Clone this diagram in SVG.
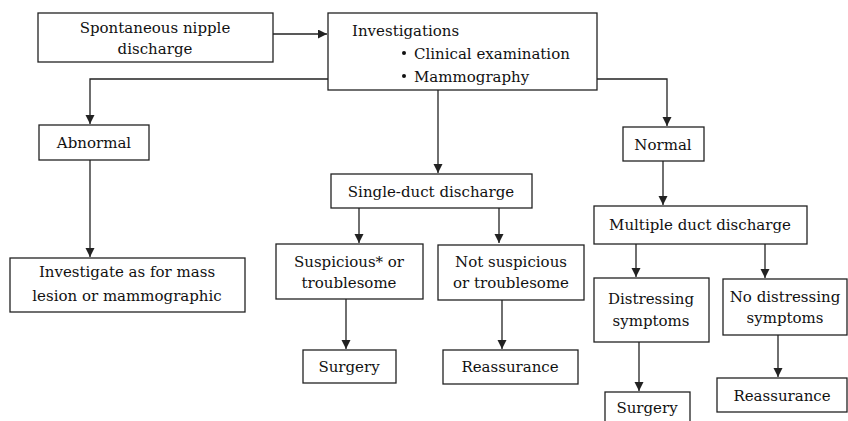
<svg xmlns="http://www.w3.org/2000/svg" width="848" height="421" viewBox="0 0 848 421">
<defs>
<marker id="ah" markerWidth="10" markerHeight="10" refX="9" refY="4.5" orient="auto" markerUnits="userSpaceOnUse">
<path d="M0,0 L9,4.5 L0,9 Z" fill="#222"/>
</marker>
<style>
rect{fill:#fff;stroke:#222;stroke-width:1.3}
.c{text-anchor:middle}
#connectors path{fill:none;stroke:#222;stroke-width:1.3;marker-end:url(#ah)}
</style>
</defs>
<rect x="0" y="0" width="848" height="421" style="fill:#fff;stroke:none"/>
<g id="connectors">
<path d="M273,34 L327,34"/>
<path d="M328,79 L90,79 L90,124"/>
<path d="M438,90 L438,173"/>
<path d="M597,79 L667,79 L667,126"/>
<path d="M90,160 L90,257"/>
<path d="M359,208 L359,243"/>
<path d="M499,208 L499,243"/>
<path d="M346,299 L346,349"/>
<path d="M502,300 L502,349"/>
<path d="M663,161 L663,205"/>
<path d="M636,244 L636,277"/>
<path d="M765,244 L765,278"/>
<path d="M639,342 L639,391"/>
<path d="M778,335 L778,377"/>
</g>
<g font-family="DejaVu Serif, serif" font-size="15" fill="#111">
<g id="spontaneous">
<rect x="38" y="13" width="235" height="49"/>
<text class="c" x="155" y="33">Spontaneous nipple</text>
<text class="c" x="155" y="54">discharge</text>
</g>
<g id="investigations">
<rect x="328" y="13" width="269" height="77"/>
<text x="352" y="36">Investigations</text>
<circle cx="404" cy="53" r="2" fill="#111"/>
<text x="414" y="59">Clinical examination</text>
<circle cx="404" cy="76" r="2" fill="#111"/>
<text x="414" y="82">Mammography</text>
</g>
<g id="abnormal">
<rect x="39" y="125" width="110" height="35"/>
<text class="c" x="94" y="148">Abnormal</text>
</g>
<g id="investigate">
<rect x="10" y="258" width="235" height="54"/>
<text class="c" x="127" y="277">Investigate as for mass</text>
<text class="c" x="127" y="301">lesion or mammographic</text>
</g>
<g id="single">
<rect x="331" y="174" width="201" height="34"/>
<text class="c" x="431" y="197">Single-duct discharge</text>
</g>
<g id="suspicious">
<rect x="276" y="244" width="147" height="55"/>
<text class="c" x="349" y="267">Suspicious* or</text>
<text class="c" x="349" y="288">troublesome</text>
</g>
<g id="notsuspicious">
<rect x="438" y="245" width="146" height="55"/>
<text class="c" x="511" y="267">Not suspicious</text>
<text class="c" x="511" y="288">or troublesome</text>
</g>
<g id="surgery1">
<rect x="303" y="350" width="93" height="33"/>
<text class="c" x="349" y="372">Surgery</text>
</g>
<g id="reassurance1">
<rect x="443" y="350" width="135" height="34"/>
<text class="c" x="510" y="372">Reassurance</text>
</g>
<g id="normal">
<rect x="623" y="127" width="81" height="34"/>
<text class="c" x="663" y="150">Normal</text>
</g>
<g id="multiple">
<rect x="594" y="206" width="213" height="38"/>
<text class="c" x="700" y="230">Multiple duct discharge</text>
</g>
<g id="distressing">
<rect x="594" y="278" width="115" height="64"/>
<text class="c" x="651" y="304">Distressing</text>
<text class="c" x="651" y="326">symptoms</text>
</g>
<g id="nodistressing">
<rect x="723" y="279" width="124" height="56"/>
<text class="c" x="785" y="302">No distressing</text>
<text class="c" x="785" y="323">symptoms</text>
</g>
<g id="surgery2">
<rect x="605" y="392" width="85" height="40"/>
<text class="c" x="647" y="413">Surgery</text>
</g>
<g id="reassurance2">
<rect x="717" y="378" width="130" height="34"/>
<text class="c" x="782" y="401">Reassurance</text>
</g>
</g>
</svg>
